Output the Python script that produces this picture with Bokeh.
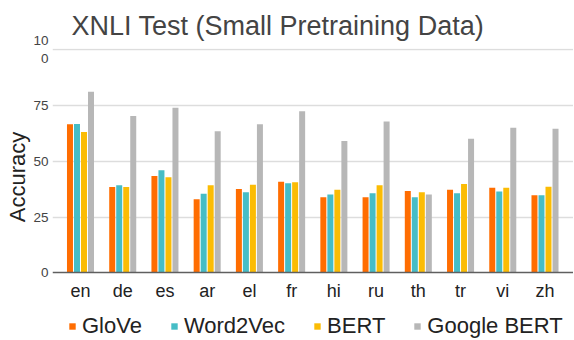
import numpy as np
from bokeh.plotting import figure
from bokeh.layouts import column
from bokeh.models import (ColumnDataSource, Range1d, FixedTicker, Legend, LegendItem)
from bokeh.embed import file_html
from bokeh.resources import INLINE

categories = ["en", "de", "es", "ar", "el", "fr", "hi", "ru", "th", "tr", "vi", "zh"]
glove = [66.5, 38.4, 43.4, 33.0, 37.5, 40.8, 33.8, 33.8, 36.7, 37.2, 38.1, 34.8]
word2vec = [66.7, 39.2, 45.9, 35.4, 36.1, 40.1, 35.1, 35.7, 33.8, 35.7, 36.4, 34.8]
bert = [63.1, 38.4, 42.8, 39.2, 39.5, 40.6, 37.2, 39.2, 36.1, 39.8, 38.1, 38.5]
google_bert = [81.1, 70.2, 73.9, 63.4, 66.5, 72.4, 59.0, 67.8, 35.1, 60.0, 65.0, 64.5]
series_names = ["GloVe", "Word2Vec", "BERT", "Google BERT"]
series_values = [glove, word2vec, bert, google_bert]
colors = ["#FF6D01", "#46BDC6", "#FBBC04", "#B7B7B7"]
y_ticks = [0, 25, 50, 75, 100]

xs = np.arange(len(categories))
FONT = "Liberation Sans"

p = figure(width=573, height=305, output_backend="svg", toolbar_location=None,
           x_range=Range1d(-0.663, 11.675), y_range=Range1d(-14.6, 100.44),
           min_border_left=52, min_border_right=0, min_border_top=45, min_border_bottom=0)
p.outline_line_color = None
p.background_fill_color = "white"

step = 0.166
bw = 0.142
for i, (vals, c) in enumerate(zip(series_values, colors)):
    off = (i - 1.5) * step
    src = ColumnDataSource(dict(x=xs + off, top=vals))
    p.vbar(x="x", top="top", bottom=0, width=bw, source=src,
           fill_color=c, line_color=None)

p.title.text = "XNLI Test (Small Pretraining Data)"
p.title.text_font = FONT
p.title.text_font_size = "27px"
p.title.text_font_style = "normal"
p.title.text_color = "#444444"
p.title.text_line_height = 1.0
p.title.offset = 19
p.title.standoff = 16

# x axis, pinned at y = 0
xa = p.xaxis[0]
xa.fixed_location = 0
xa.ticker = FixedTicker(ticks=list(xs))
xa.major_label_overrides = {int(i): c for i, c in zip(xs, categories)}
xa.major_label_text_font = FONT
xa.major_label_text_font_size = "18px"
xa.major_label_text_color = "#222222"
xa.major_label_standoff = 8
xa.major_tick_out = 0
xa.major_tick_in = 0
xa.minor_tick_line_color = None
xa.axis_line_color = "#5f5f5f"
xa.axis_line_width = 1.5

# y axis
ya = p.yaxis[0]
ya.ticker = FixedTicker(ticks=y_ticks)
ya.major_label_overrides = {100: "10\n0"}
ya.major_label_text_font = FONT
ya.major_label_text_font_size = "13.5px"
ya.major_label_text_color = "#444444"
ya.major_label_standoff = 4
ya.major_tick_out = 0
ya.major_tick_in = 0
ya.minor_tick_line_color = None
ya.axis_line_color = None
ya.axis_label = "Accuracy"
ya.axis_label_text_font = FONT
ya.axis_label_text_font_size = "22px"
ya.axis_label_text_font_style = "normal"
ya.axis_label_text_color = "#222222"
ya.axis_label_standoff = 0

p.xgrid.grid_line_color = None
p.ygrid.ticker = FixedTicker(ticks=[25, 50, 75, 100])
p.ygrid.grid_line_color = "#DDDDDD"
p.ygrid.grid_line_width = 1.5

# legend strip below the chart
lg = figure(width=573, height=35, output_backend="svg", toolbar_location=None,
            x_axis_location=None, y_axis_location=None,
            x_range=Range1d(0, 1), y_range=Range1d(0, 1),
            min_border_left=0, min_border_right=0, min_border_top=0, min_border_bottom=0)
lg.outline_line_color = None
lg.xgrid.grid_line_color = None
lg.ygrid.grid_line_color = None
items = []
for name, c in zip(series_names, colors):
    swatch = ColumnDataSource(dict(x=[0.5], top=[0.0]))
    r = lg.vbar(x="x", top="top", bottom=0, width=0.0, source=swatch,
                fill_color=c, line_color=None)
    items.append(LegendItem(label=name, renderers=[r]))
legend = Legend(items=items, orientation="horizontal", location=(16, 1),
                label_text_font=FONT, label_text_font_size="22px",
                label_text_color="#222222", glyph_width=8, glyph_height=8,
                label_standoff=6, spacing=28, padding=0, margin=0,
                label_height=22, border_line_color=None, background_fill_alpha=0)
lg.add_layout(legend, "center")

layout = column(p, lg, spacing=0)
open("out.html", "w").write(file_html(layout, INLINE))
